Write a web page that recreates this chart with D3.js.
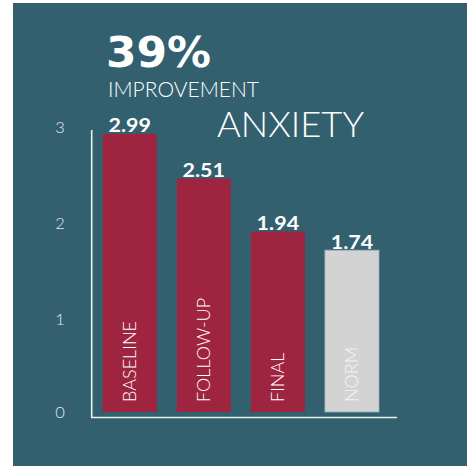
<!DOCTYPE html>
<html>
<head>
<meta charset="utf-8">
<script src="https://cdn.jsdelivr.net/npm/d3@7"></script>
<style>
  html, body { margin: 0; padding: 0; background: #ffffff; }
  svg { display: block; }
</style>
</head>
<body>
<svg id="chart" width="467" height="466"></svg>
<script>
// Anxiety scores across assessment points, with the population norm
const categories = ["BASELINE", "FOLLOW-UP", "FINAL", "NORM"];
const scores = [2.99, 2.51, 1.94, 1.74];
const barColors = ["#9e2440", "#9e2440", "#9e2440", "#d3d3d3"];
const yTicks = [0, 1, 2, 3];
const headline = "39%";
const headlineSub = "IMPROVEMENT";
const title = "ANXIETY";

const svg = d3.select("#chart");
const font = "Lato, 'Open Sans', sans-serif";

// panel background
svg.append("rect")
  .attr("x", 13).attr("y", 3)
  .attr("width", 454).attr("height", 463)
  .attr("fill", "#33606f");

const y = d3.scaleLinear().domain([0, 3]).range([412, 133]);
const x = d3.scaleBand().domain(categories).range([102.7, 379]).paddingInner(0.27).paddingOuter(0);

// tick labels
svg.append("g").selectAll("text")
  .data(yTicks).join("text")
  .attr("x", 60)
  .attr("y", d => y(d) - (d === 3 ? 6 : d === 2 ? 3 : 0))
  .attr("dy", "0.36em")
  .attr("text-anchor", "middle")
  .attr("font-family", font)
  .attr("font-weight", 300)
  .attr("font-size", 16.5)
  .attr("fill", "#e3e9ec")
  .text(d => d);

// bars
svg.append("g").selectAll("rect")
  .data(categories).join("rect")
  .attr("x", d => x(d))
  .attr("y", (d, i) => y(scores[i]))
  .attr("width", x.bandwidth())
  .attr("height", (d, i) => y(0) - y(scores[i]))
  .attr("fill", (d, i) => barColors[i])
  .attr("stroke", (d, i) => i === 3 ? "#9fb0b8" : "none")
  .attr("stroke-width", 0.8);

// value labels above bars
svg.append("g").selectAll("text")
  .data(categories).join("text")
  .attr("x", d => x(d) + x.bandwidth() / 2)
  .attr("y", (d, i) => y(scores[i]) - 1.5)
  .attr("text-anchor", "middle")
  .attr("font-family", font)
  .attr("font-weight", 700)
  .attr("font-size", 18.5)
  .attr("textLength", 42.5)
  .attr("lengthAdjust", "spacingAndGlyphs")
  .attr("fill", "#ffffff")
  .text((d, i) => scores[i].toFixed(2));

// category labels inside bars, reading upward
svg.append("g").selectAll("text")
  .data(categories).join("text")
  .attr("transform", d => `translate(${x(d) + x.bandwidth() / 2},${y(0) - 10}) rotate(-90)`)
  .attr("dy", "0.36em")
  .attr("text-anchor", "start")
  .attr("font-family", font)
  .attr("font-weight", 300)
  .attr("font-size", 18)
  .attr("fill", (d, i) => i === 3 ? "#f4f4f4" : "#ffffff")
  .text(d => d);

// axis lines
svg.append("path")
  .attr("d", d3.line()([[91.7, 130], [91.7, 417.5], [397, 417.5]]))
  .attr("fill", "none")
  .attr("stroke", "#ecf0f2")
  .attr("stroke-width", 1.6);

// headline figures
svg.append("text")
  .attr("x", 106).attr("y", 66.5)
  .attr("font-family", "'DejaVu Sans', sans-serif").attr("font-weight", 700).attr("font-size", 43)
  .attr("textLength", 105).attr("lengthAdjust", "spacingAndGlyphs")
  .attr("fill", "#ffffff")
  .text(headline);

svg.append("text")
  .attr("x", 108).attr("y", 97)
  .attr("font-family", font).attr("font-weight", 300).attr("font-size", 21)
  .attr("textLength", 151).attr("lengthAdjust", "spacingAndGlyphs")
  .attr("fill", "#ffffff")
  .text(headlineSub);

svg.append("text")
  .attr("x", 217).attr("y", 137)
  .attr("font-family", font).attr("font-weight", 300).attr("font-size", 35)
  .attr("textLength", 147).attr("lengthAdjust", "spacingAndGlyphs")
  .attr("fill", "#ffffff")
  .text(title);
</script>
</body>
</html>
